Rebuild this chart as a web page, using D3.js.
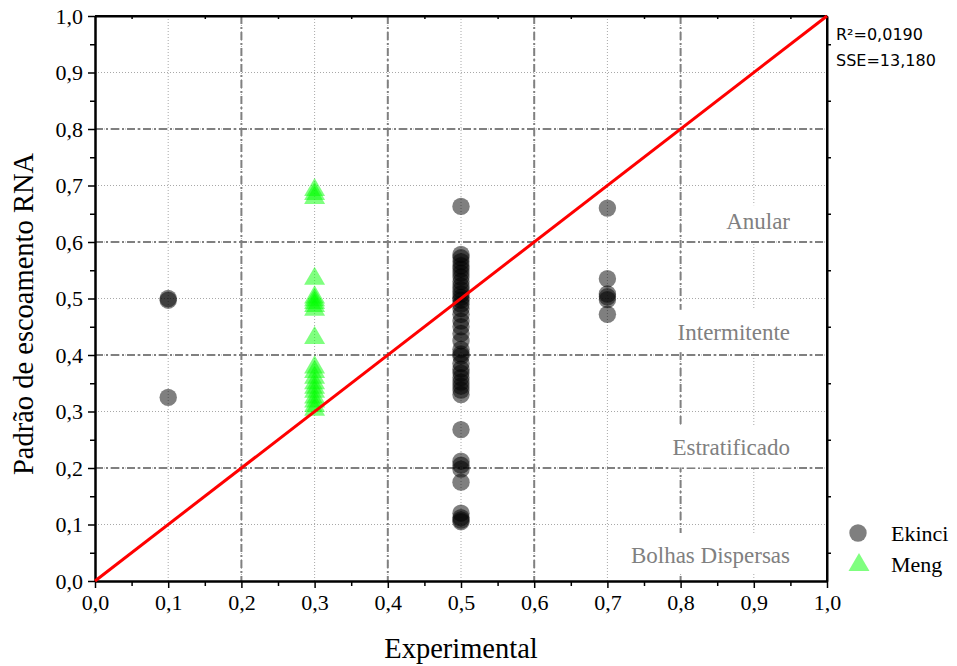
<!DOCTYPE html>
<html>
<head>
<meta charset="utf-8">
<script src="https://cdn.jsdelivr.net/npm/d3@7"></script>
<style>
  body { margin: 0; background: #fff; }
  svg { display: block; }
</style>
</head>
<body>
<svg id="chart" width="957" height="666"></svg>
<script>
// ---- data ----
const tickValues = [0, 0.1, 0.2, 0.3, 0.4, 0.5, 0.6, 0.7, 0.8, 0.9, 1.0];
const boundaryValues = [0.2, 0.4, 0.6, 0.8];

// Ekinci: experimental pattern vs. network output
const ekinciX = [
  0.1, 0.1, 0.1,
  0.5, 0.5, 0.5, 0.5, 0.5, 0.5, 0.5, 0.5, 0.5, 0.5, 0.5, 0.5, 0.5, 0.5,
  0.5, 0.5, 0.5, 0.5, 0.5, 0.5, 0.5, 0.5, 0.5, 0.5, 0.5, 0.5, 0.5, 0.5,
  0.5, 0.5, 0.5, 0.5, 0.5, 0.5, 0.5, 0.5, 0.5, 0.5, 0.5, 0.5, 0.5,
  0.7, 0.7, 0.7, 0.7, 0.7, 0.7
];
const ekinciY = [
  0.497, 0.500, 0.325,
  0.663, 0.578, 0.572, 0.565, 0.558, 0.552, 0.545, 0.538, 0.530, 0.522, 0.515, 0.508, 0.502, 0.497,
  0.490, 0.482, 0.472, 0.460, 0.450, 0.438, 0.425, 0.410, 0.402, 0.398, 0.385, 0.375, 0.368, 0.360,
  0.352, 0.345, 0.338, 0.330, 0.268, 0.212, 0.205, 0.198, 0.175, 0.120, 0.112, 0.108, 0.105,
  0.660, 0.535, 0.508, 0.503, 0.498, 0.472
];

// Meng
const mengX = [
  0.3, 0.3, 0.3, 0.3, 0.3, 0.3, 0.3, 0.3, 0.3, 0.3,
  0.3, 0.3, 0.3, 0.3, 0.3, 0.3, 0.3, 0.3, 0.3, 0.3
];
const mengY = [
  0.692, 0.685, 0.678, 0.535, 0.502, 0.497, 0.492, 0.487, 0.480, 0.430,
  0.378, 0.370, 0.360, 0.350, 0.342, 0.335, 0.325, 0.318, 0.310, 0.303
];

const regionNames = ["Anular", "Intermitente", "Estratificado", "Bolhas Dispersas"];
const seriesNames = ["Ekinci", "Meng"];
const statLines = ["R\u00b2=0,0190", "SSE=13,180"];
const xTitle = "Experimental";
const yTitle = "Padrão de escoamento RNA";

// ---- layout ----
const svg = d3.select("#chart");
const pL = 95, pR = 827, pT = 16, pB = 581;
const x = d3.scaleLinear().domain([0, 1]).range([pL, pR]);
const y = d3.scaleLinear().domain([0, 1]).range([pB, pT]);
const serif = "'Liberation Serif', 'Times New Roman', serif";
const fmt = v => d3.format(".1f")(v).replace(".", ",");
const minorValues = d3.range(0.05, 1, 0.1);

// light dotted grid at every tenth
const grid = svg.append("g");
grid.selectAll("line.gx").data(tickValues.slice(1, -1)).join("line")
  .attr("x1", d => x(d)).attr("x2", d => x(d))
  .attr("y1", pT).attr("y2", pB)
  .attr("stroke", "#a8a8a8").attr("stroke-width", 1).attr("stroke-dasharray", "1,2");
grid.selectAll("line.gy").data(tickValues.slice(1, -1)).join("line")
  .attr("x1", pL).attr("x2", pR)
  .attr("y1", d => y(d)).attr("y2", d => y(d))
  .attr("stroke", "#a8a8a8").attr("stroke-width", 1).attr("stroke-dasharray", "1,2");

// dash-dot class boundaries
const bound = svg.append("g");
bound.selectAll("line.bx").data(boundaryValues).join("line")
  .attr("x1", d => x(d)).attr("x2", d => x(d))
  .attr("y1", pT).attr("y2", pB)
  .attr("stroke", "#808080").attr("stroke-width", 2).attr("stroke-dasharray", "8,3,2,3");
bound.selectAll("line.by").data(boundaryValues).join("line")
  .attr("x1", pL).attr("x2", pR)
  .attr("y1", d => y(d)).attr("y2", d => y(d))
  .attr("stroke", "#808080").attr("stroke-width", 2).attr("stroke-dasharray", "8,3,2,3");

// region labels on white boxes
const regionPos = [
  { yv: 0.637, y0: 0.665, y1: 0.605 },
  { yv: 0.440, y0: 0.480, y1: 0.405 },
  { yv: 0.237, y0: 0.273, y1: 0.201 },
  { yv: 0.046, y0: 0.085, y1: 0.014 }
];
const regions = svg.append("g");
regionNames.forEach((name, i) => {
  const p = regionPos[i];
  const t = regions.append("text")
    .attr("x", 790).attr("y", y(p.yv))
    .attr("dy", "0.35em")
    .attr("text-anchor", "end")
    .attr("font-family", serif).attr("font-size", 23)
    .attr("fill", "#808080")
    .text(name);
  const bb = t.node().getBBox();
  regions.insert("rect", "text")
    .attr("x", bb.x - 3).attr("width", bb.width + 6)
    .attr("y", y(p.y0)).attr("height", y(p.y1) - y(p.y0))
    .attr("fill", "#fff");
});

// axes
const axes = svg.append("g");
const styleAxis = g => {
  g.selectAll("path.domain").attr("stroke", "#000").attr("stroke-width", 2);
  g.selectAll(".tick line").attr("stroke", "#000").attr("stroke-width", 1.5);
  g.selectAll(".tick text").attr("font-family", serif).attr("font-size", 22).attr("fill", "#000");
};
axes.append("g").attr("transform", `translate(0,${pB})`)
  .call(d3.axisBottom(x).tickValues(tickValues).tickFormat(fmt).tickSize(7).tickSizeOuter(0).tickPadding(6))
  .call(styleAxis);
axes.append("g").attr("transform", `translate(0,${pB})`)
  .call(d3.axisBottom(x).tickValues(minorValues).tickFormat("").tickSize(5).tickSizeOuter(0))
  .call(styleAxis);
axes.append("g").attr("transform", `translate(${pL},0)`)
  .call(d3.axisLeft(y).tickValues(tickValues).tickFormat(fmt).tickSize(7).tickSizeOuter(0).tickPadding(5))
  .call(styleAxis);
axes.append("g").attr("transform", `translate(${pL},0)`)
  .call(d3.axisLeft(y).tickValues(minorValues).tickFormat("").tickSize(5).tickSizeOuter(0))
  .call(styleAxis);
axes.append("g").attr("transform", `translate(0,${pT})`)
  .call(d3.axisBottom(x).tickValues(minorValues).tickFormat("").tickSize(3).tickSizeOuter(0))
  .call(styleAxis);
axes.append("g").attr("transform", `translate(${pR},0)`)
  .call(d3.axisRight(y).tickValues(minorValues).tickFormat("").tickSize(4).tickSizeOuter(0))
  .call(styleAxis);
// frame edges
axes.append("line").attr("x1", pL).attr("x2", pR).attr("y1", pT).attr("y2", pT)
  .attr("stroke", "#000").attr("stroke-width", 2);
axes.append("line").attr("x1", pR).attr("x2", pR).attr("y1", pT).attr("y2", pB)
  .attr("stroke", "#000").attr("stroke-width", 2);

// points
const tri = d3.symbol().type(d3.symbolTriangle).size(190);
svg.append("g").selectAll("circle").data(ekinciX.map((v, i) => [v, ekinciY[i]])).join("circle")
  .attr("cx", d => x(d[0])).attr("cy", d => y(d[1])).attr("r", 8.7)
  .attr("fill", "#000").attr("fill-opacity", 0.5);
svg.append("g").selectAll("path").data(mengX.map((v, i) => [v, mengY[i]])).join("path")
  .attr("d", tri)
  .attr("transform", d => `translate(${x(d[0])},${y(d[1])})`)
  .attr("fill", "#00ff00").attr("fill-opacity", 0.5);

// identity line
svg.append("line")
  .attr("x1", x(0)).attr("y1", y(0)).attr("x2", x(1)).attr("y2", y(1))
  .attr("stroke", "#ff0000").attr("stroke-width", 3);

// statistics
svg.append("g").selectAll("text").data(statLines).join("text")
  .attr("x", 836).attr("y", (d, i) => 40 + i * 26)
  .attr("font-family", "'DejaVu Sans', Tahoma, sans-serif").attr("font-size", 16)
  .attr("fill", "#000")
  .text(d => d);

// legend
const legend = svg.append("g");
legend.append("circle").attr("cx", 858).attr("cy", 533).attr("r", 8.7)
  .attr("fill", "#000").attr("fill-opacity", 0.5);
legend.append("path").attr("d", tri).attr("transform", "translate(859,565)")
  .attr("fill", "#00ff00").attr("fill-opacity", 0.5);
legend.selectAll("text").data(seriesNames).join("text")
  .attr("x", 891).attr("y", (d, i) => 541 + i * 31)
  .attr("font-family", serif).attr("font-size", 22).attr("fill", "#000")
  .text(d => d);

// axis titles
svg.append("text")
  .attr("x", 461).attr("y", 658)
  .attr("text-anchor", "middle")
  .attr("font-family", serif).attr("font-size", 28.5).attr("fill", "#000")
  .text(xTitle);
svg.append("text")
  .attr("transform", "translate(33,314) rotate(-90)")
  .attr("text-anchor", "middle")
  .attr("font-family", serif).attr("font-size", 28.5).attr("fill", "#000")
  .text(yTitle);
</script>
</body>
</html>
